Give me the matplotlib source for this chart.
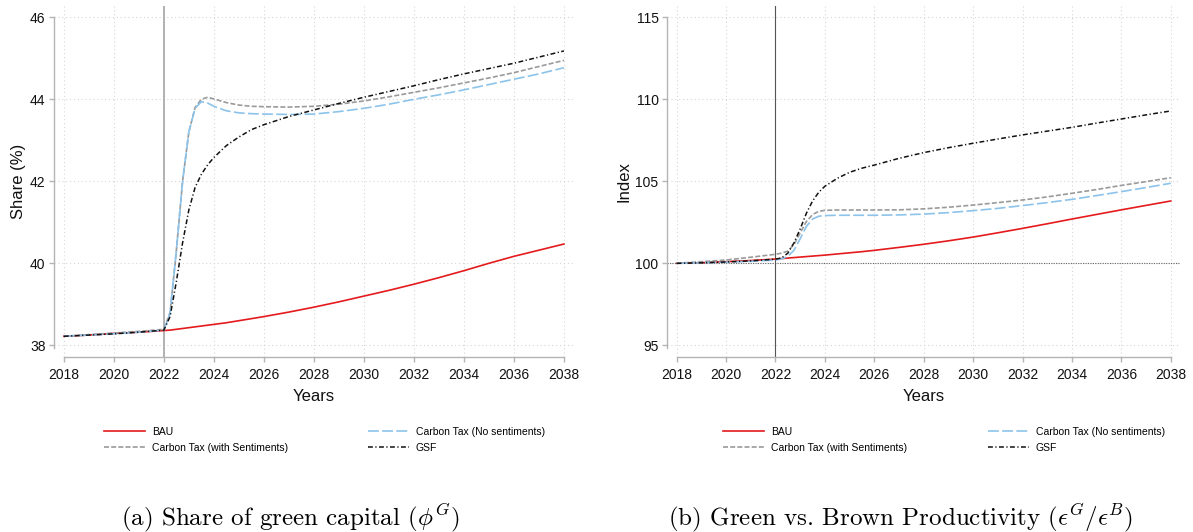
import matplotlib
matplotlib.use("Agg")
import matplotlib.pyplot as plt
import numpy as np

plt.rcParams['font.family'] = ['Liberation Sans', 'DejaVu Sans']
plt.rcParams['mathtext.fontset'] = 'cm'

# ---------------- data ----------------
years = [2018, 2019, 2020, 2021, 2022, 2022.25, 2022.5, 2022.75, 2023, 2023.25,
         2023.5, 2023.75, 2024, 2024.5, 2025, 2025.5, 2026, 2027, 2028, 2029,
         2030, 2031, 2032, 2033, 2034, 2035, 2036, 2037, 2038]

# Panel (a): share of green capital (%)
share_bau = [38.22, 38.25, 38.29, 38.32, 38.36, 38.37, 38.39, 38.41, 38.43, 38.45,
             38.47, 38.49, 38.51, 38.55, 38.60, 38.65, 38.70, 38.81, 38.93, 39.06,
             39.20, 39.34, 39.49, 39.65, 39.82, 40.00, 40.17, 40.32, 40.47]
share_ct_sent = [38.22, 38.26, 38.30, 38.34, 38.39, 38.80, 40.30, 42.00, 43.20, 43.80,
                 44.00, 44.05, 44.01, 43.92, 43.86, 43.83, 43.82, 43.81, 43.83, 43.88,
                 43.96, 44.06, 44.17, 44.28, 44.40, 44.52, 44.65, 44.80, 44.95]
share_ct_nosent = [38.22, 38.25, 38.28, 38.32, 38.37, 38.78, 40.30, 42.00, 43.20, 43.78,
                   43.94, 43.91, 43.83, 43.72, 43.67, 43.65, 43.64, 43.63, 43.64, 43.70,
                   43.78, 43.88, 44.00, 44.11, 44.23, 44.36, 44.49, 44.62, 44.77]
share_gsf = [38.22, 38.25, 38.28, 38.32, 38.37, 38.70, 39.55, 40.50, 41.30, 41.85,
             42.17, 42.40, 42.58, 42.87, 43.08, 43.26, 43.38, 43.58, 43.74, 43.90,
             44.05, 44.19, 44.33, 44.48, 44.62, 44.75, 44.88, 45.03, 45.18]

# Panel (b): green vs brown productivity index
prod_bau = [100.00, 100.04, 100.10, 100.17, 100.26, 100.29, 100.32, 100.35, 100.38, 100.41,
            100.44, 100.47, 100.50, 100.57, 100.64, 100.71, 100.79, 100.97, 101.16, 101.37,
            101.60, 101.86, 102.13, 102.41, 102.70, 102.98, 103.26, 103.53, 103.80]
prod_ct_sent = [100.00, 100.10, 100.20, 100.37, 100.55, 100.62, 100.75, 101.15, 101.85, 102.55,
                102.97, 103.17, 103.23, 103.25, 103.25, 103.25, 103.25, 103.26, 103.32, 103.42,
                103.55, 103.70, 103.86, 104.05, 104.27, 104.50, 104.75, 104.98, 105.22]
prod_ct_nosent = [100.00, 100.03, 100.07, 100.12, 100.20, 100.27, 100.42, 100.80, 101.50, 102.25,
                  102.70, 102.87, 102.91, 102.93, 102.93, 102.93, 102.93, 102.95, 103.00, 103.09,
                  103.21, 103.35, 103.52, 103.70, 103.90, 104.13, 104.37, 104.62, 104.88]
prod_gsf = [100.00, 100.03, 100.08, 100.15, 100.25, 100.33, 100.62, 101.25, 102.10, 103.05,
            103.80, 104.33, 104.70, 105.18, 105.55, 105.80, 105.99, 106.40, 106.75, 107.05,
            107.32, 107.58, 107.83, 108.06, 108.29, 108.55, 108.80, 109.05, 109.29]

xticks = [2018, 2020, 2022, 2024, 2026, 2028, 2030, 2032, 2034, 2036, 2038]
share_yticks = [38, 40, 42, 44, 46]
prod_yticks = [95, 100, 105, 110, 115]
policy_year = 2022
labels = ["BAU", "Carbon Tax (with Sentiments)", "Carbon Tax (No sentiments)", "GSF"]
captions = [r"(a) Share of green capital ($\phi^G$)",
            r"(b) Green vs. Brown Productivity ($\epsilon^G/\epsilon^B$)"]

# ---------------- layout ----------------
W, H = 1193, 532
fig = plt.figure(figsize=(W / 100, H / 100), dpi=100)

AX_TOP, AX_BOT = 6, 356.7
panels = [
    dict(left=54.3, right=573.3, ylabel="Share (%)", yticks=share_yticks,
         ylim=(37.722, 46.276),
         series=[share_bau, share_ct_sent, share_ct_nosent, share_gsf],
         vcolor="#a6a6a6", vlw=1.2, refline=None, leg_x=[104, 368], cap_x=290),
    dict(left=667.3, right=1180.0, ylabel="Index", yticks=prod_yticks,
         ylim=(94.305, 115.69),
         series=[prod_bau, prod_ct_sent, prod_ct_nosent, prod_gsf],
         vcolor="#555555", vlw=0.8, refline=100, leg_x=[723, 988], cap_x=900),
]

styles = [
    dict(color="#e41a1c", lw=1.2, linestyle="-"),
    dict(color="#9a9a9a", lw=1.2, linestyle=(0, (3.0, 1.3))),
    dict(color="#8cc3ea", lw=1.2, linestyle=(0, (6.5, 2.0))),
    dict(color="#111111", lw=1.1, linestyle=(0, (3.2, 1.6, 0.8, 1.6))),
]
spine_col = "#b4b4b4"
grid_col = "#d6d6d6"

for pi, p in enumerate(panels):
    ax = fig.add_axes([p["left"] / W, 1 - AX_BOT / H,
                       (p["right"] - p["left"]) / W, (AX_BOT - AX_TOP) / H])
    ax.set_xlim(2017.62, 2038.375)
    ax.set_ylim(*p["ylim"])
    ax.set_xticks(xticks)
    ax.set_yticks(p["yticks"])
    for v in xticks:
        ax.axvline(v, color=grid_col, lw=0.8, ls=(0, (1, 2.5)), zorder=0)
    for v in p["yticks"]:
        ax.axhline(v, color=grid_col, lw=0.8, ls=(0, (1, 2.5)), zorder=0)
    if p["refline"] is not None:
        ax.axhline(p["refline"], color="#666666", lw=0.8, ls=(0, (1, 1.2)), zorder=1)
    ax.axvline(policy_year, color=p["vcolor"], lw=p["vlw"], zorder=1)

    handles = []
    for i in range(4):
        ln, = ax.plot(years, p["series"][i], label=labels[i], zorder=3 + i, **styles[i])
        handles.append(ln)

    for s in ["top", "right"]:
        ax.spines[s].set_visible(False)
    for s in ["left", "bottom"]:
        ax.spines[s].set_color(spine_col)
        ax.spines[s].set_linewidth(1.0)
    yt = p["yticks"]
    ax.spines["left"].set_bounds(yt[0] - (yt[1] - yt[0]) * 0.03, yt[-1])
    ax.spines["bottom"].set_bounds(xticks[0], xticks[-1])
    ax.tick_params(axis="both", colors=spine_col, labelcolor="#111111",
                   length=3.8, width=1.0, labelsize=10)
    ax.tick_params(axis="x", pad=4.5)
    ax.tick_params(axis="y", pad=2.5)
    ax.set_xlabel("Years", fontsize=12, color="#111111", labelpad=5)
    ax.set_ylabel(p["ylabel"], fontsize=12, color="#111111", labelpad=3)

    # legends: two columns
    for col, idx in enumerate([[0, 1], [2, 3]]):
        fig.legend(handles=[handles[k] for k in idx], labels=[labels[k] for k in idx],
                   loc="upper left", bbox_to_anchor=(p["leg_x"][col] / W, 1 - 427 / H),
                   frameon=False, fontsize=7.5, handlelength=3.9, handletextpad=0.7,
                   borderpad=0, borderaxespad=0, labelspacing=0.55)

    fig.text(p["cap_x"] / W, 1 - 518 / H, captions[pi],
             ha="center", va="center", fontsize=18, family="cmr10")

fig.savefig("out.png", dpi=100)
